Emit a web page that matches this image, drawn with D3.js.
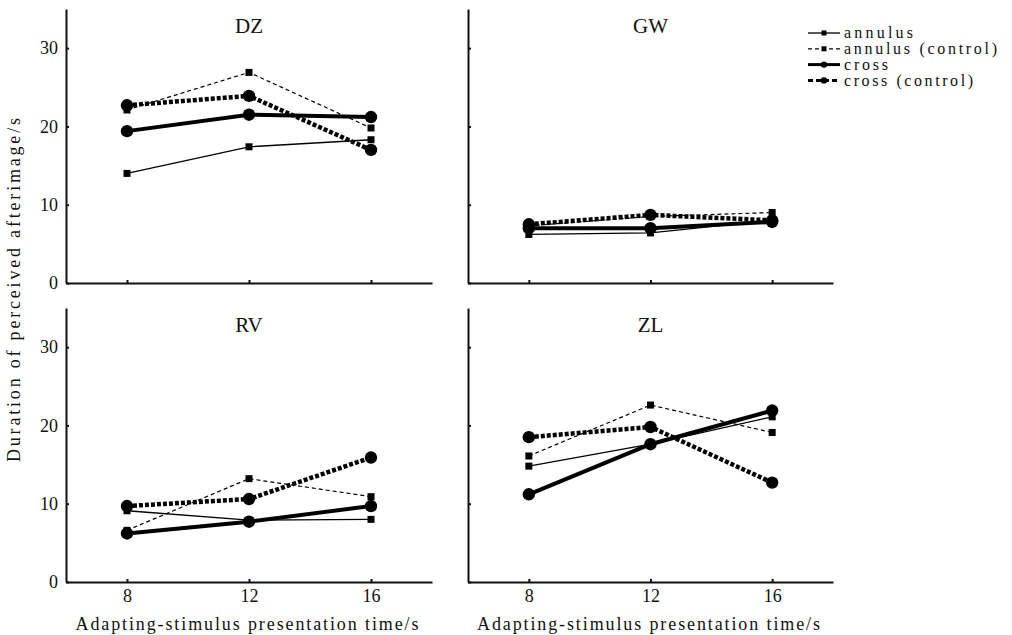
<!DOCTYPE html>
<html lang="en">
<head>
  <meta charset="UTF-8" />
  <title>Afterimage duration by subject</title>
  <style>
    body {
      margin: 0;
      background: #fff;
    }
    .axis path, .axis line {
      stroke: #111;
      stroke-width: 2px;
    }
  </style>
</head>
<body>
  <svg id="chart"></svg>

  <script src="https://d3js.org/d3.v7.min.js"></script>
  <script>
    // subjects, x values, and the four conditions (one row per subject: DZ, GW, RV, ZL)
    const subjects = ["DZ", "GW", "RV", "ZL"];
    const times = [8, 12, 16];
    const yTicks = [0, 10, 20, 30];

    const annulus = [
      [14.0, 17.4, 18.3],
      [6.2, 6.4, 8.0],
      [9.1, 7.9, 8.0],
      [14.8, 17.6, 21.1]
    ];
    const annulusControl = [
      [22.1, 26.9, 19.8],
      [7.3, 8.5, 9.0],
      [6.6, 13.2, 10.9],
      [16.1, 22.6, 19.1]
    ];
    const cross = [
      [19.4, 21.5, 21.2],
      [7.0, 7.0, 7.8],
      [6.2, 7.7, 9.7],
      [11.2, 17.6, 21.9]
    ];
    const crossControl = [
      [22.7, 23.9, 17.0],
      [7.5, 8.7, 8.0],
      [9.7, 10.6, 15.9],
      [18.5, 19.8, 12.7]
    ];

    const seriesNames = ["annulus", "annulus (control)", "cross", "cross (control)"];
    const seriesData = [annulus, annulusControl, cross, crossControl];
    const legendWidths = [69, 153, 44, 129];

    // drawing style for each series
    const styles = [
      { width: 1.3, dash: null, marker: "square", size: 7 },
      { width: 1.2, dash: "4,3", marker: "square", size: 7 },
      { width: 4, dash: null, marker: "circle", size: 6.2 },
      { width: 4.5, dash: "4,2", marker: "circle", size: 6.2 }
    ];

    const font = "Liberation Serif";
    const width = 1012, height = 635;
    const svg = d3.select("#chart")
      .attr("width", width).attr("height", height)
      .attr("font-family", font)
      .attr("fill", "#111");

    // panel frames: [left, right] x ranges, [top, bottom] y ranges
    const cols = [[66, 432], [468, 833]];
    const rows = [[9, 283], [308, 582]];

    subjects.forEach((name, i) => {
      const col = i % 2, row = Math.floor(i / 2);
      const x = d3.scaleLinear().domain([6, 18]).range(cols[col]);
      const y = d3.scaleLinear().domain([0, 35]).range([rows[row][1], rows[row][0]]);

      const g = svg.append("g");

      const yAxis = d3.axisLeft(y).tickValues(yTicks)
        .tickSizeInner(-3).tickSizeOuter(0).tickPadding(8);
      if (col === 1) yAxis.tickFormat("");
      g.append("g").attr("class", "axis")
        .attr("transform", `translate(${cols[col][0]},0)`)
        .call(yAxis);

      const xAxis = d3.axisBottom(x).tickValues(times)
        .tickSizeInner(-3).tickSizeOuter(0).tickPadding(7);
      if (row === 0) xAxis.tickFormat("");
      g.append("g").attr("class", "axis")
        .attr("transform", `translate(0,${rows[row][1]})`)
        .call(xAxis);

      g.selectAll(".axis")
        .attr("font-family", font)
        .attr("font-size", 18);
      g.selectAll(".axis text").attr("fill", "#111");

      g.append("text")
        .attr("x", x(12))
        .attr("y", rows[row][0] + 24)
        .attr("text-anchor", "middle")
        .attr("font-family", font)
        .attr("font-size", 21)
        .text(name);

      if (row === 1) {
        g.append("text")
          .attr("x", (cols[col][0] + cols[col][1]) / 2 - 2)
          .attr("y", 630)
          .attr("text-anchor", "middle")
          .attr("textLength", 343)
          .attr("lengthAdjust", "spacing")
          .attr("font-family", font)
          .attr("font-size", 18)
          .text("Adapting-stimulus presentation time/s");
      }

      const line = d3.line().x((d, k) => x(times[k])).y(d => y(d));

      seriesData.forEach((s, j) => {
        const st = styles[j];
        const vals = s[i];
        g.append("path")
          .attr("d", line(vals))
          .attr("fill", "none")
          .attr("stroke", "#000")
          .attr("stroke-width", st.width)
          .attr("stroke-dasharray", st.dash);

        if (st.marker === "square") {
          g.selectAll(null).data(vals).join("rect")
            .attr("x", (d, k) => x(times[k]) - st.size / 2)
            .attr("y", d => y(d) - st.size / 2)
            .attr("width", st.size)
            .attr("height", st.size)
            .attr("fill", "#000");
        } else {
          g.selectAll(null).data(vals).join("circle")
            .attr("cx", (d, k) => x(times[k]))
            .attr("cy", d => y(d))
            .attr("r", st.size)
            .attr("fill", "#000");
        }
      });
    });

    // shared y label
    svg.append("text")
      .attr("transform", "translate(20,290) rotate(-90)")
      .attr("text-anchor", "middle")
      .attr("textLength", 344)
      .attr("lengthAdjust", "spacing")
      .attr("font-family", font)
      .attr("font-size", 18)
      .text("Duration of perceived afterimage/s");

    // legend
    const legend = svg.append("g").attr("transform", "translate(808,33)");
    seriesNames.forEach((n, j) => {
      const st = styles[j];
      const row = legend.append("g").attr("transform", `translate(0,${j * 15.8})`);
      row.append("line")
        .attr("x1", 0).attr("x2", 32)
        .attr("stroke", "#000")
        .attr("stroke-width", st.marker === "circle" ? 3 : 1.3)
        .attr("stroke-dasharray", st.dash ? (st.marker === "circle" ? "5,3" : "4,3") : null);
      if (st.marker === "square") {
        row.append("rect").attr("x", 13.5).attr("y", -2.5).attr("width", 5).attr("height", 5).attr("fill", "#000");
      } else {
        row.append("circle").attr("cx", 16).attr("cy", 0).attr("r", 3.2).attr("fill", "#000");
      }
      row.append("text")
        .attr("x", 36)
        .attr("y", 0)
        .attr("dy", "0.32em")
        .attr("textLength", legendWidths[j])
        .attr("lengthAdjust", "spacing")
        .attr("font-family", font)
        .attr("font-size", 16)
        .text(n);
    });
  </script>
</body>
</html>
